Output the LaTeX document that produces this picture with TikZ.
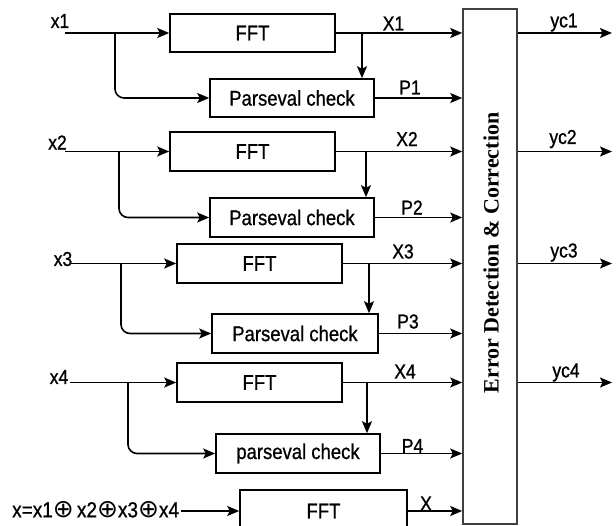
\documentclass[tikz,border=0pt]{standalone}
\usepackage{fontspec}
\setmainfont{Liberation Sans}[FakeBold=0.8]
\newfontfamily\labfont{Liberation Sans}[FakeBold=1.1]
\newfontfamily\errfont{Liberation Serif}
\newfontfamily\symfont{DejaVu Sans}
\usetikzlibrary{arrows.meta}
\newcommand{\tallt}[1]{\scalebox{1}[1.15]{#1}}
\newcommand{\opl}{{\symfont\fontsize{25}{25}\selectfont ⊕}}
\begin{document}
\begin{tikzpicture}[x=1pt,y=-1pt,
  box/.style={draw, line width=1.6pt, inner sep=0pt, font=\fontsize{18.5}{20}\selectfont},
  lab/.style={font=\labfont\fontsize{17.5}{20}\selectfont, inner sep=0pt},
  arr/.style={line width=1.6pt, -{Stealth[length=12pt,width=10pt,inset=2.5pt]}},
  br/.style={arr, rounded corners=9pt},
]
\useasboundingbox (0,0) rectangle (616,526);
% big box
\node[draw, line width=1.6pt, draw=black!75, minimum width=54pt, minimum height=515pt, inner sep=0pt] (E) at (490,266.5) {};
\node[rotate=90, inner sep=0pt, font=\errfont\bfseries\fontsize{22}{24}\selectfont] (EL) at (491,253) {Error Detection \& Correction};
% boxes
\node[box, minimum width=165pt, minimum height=38pt] (F1) at (252.5,33) {\tallt{FFT}};
\node[box, minimum width=164pt, minimum height=38pt] (P1) at (292,98) {\tallt{Parseval check}};
\node[box, minimum width=165pt, minimum height=39pt] (F2) at (252.5,151.5) {\tallt{FFT}};
\node[box, minimum width=164pt, minimum height=39pt] (P2) at (292,217.5) {\tallt{Parseval check}};
\node[box, minimum width=165pt, minimum height=39pt] (F3) at (259.5,263.5) {\tallt{FFT}};
\node[box, minimum width=166pt, minimum height=39pt] (P3) at (295,333.5) {\tallt{Parseval check}};
\node[box, minimum width=165pt, minimum height=39pt] (F4) at (259.5,382.5) {\tallt{FFT}};
\node[box, minimum width=164pt, minimum height=39pt] (P4) at (298,453.5) {\tallt{parseval check}};
\node[box, minimum width=167pt, minimum height=42pt] (F5) at (323.5,511) {\tallt{FFT}};
% input labels
\node[lab] (lx1) at (60,21) {\tallt{x1}};
\node[lab] (lx2) at (57.5,142.5) {\tallt{x2}};
\node[lab] (lx3) at (63,259) {\tallt{x3}};
\node[lab] (lx4) at (59,377) {\tallt{x4}};
\node[inner sep=0pt, font=\fontsize{19}{22}\selectfont, anchor=west] (lxs) at (12,509.5) {\tallt{x=x1}\opl\,\tallt{x2}\opl\tallt{x3}\opl\tallt{x4}};
% output labels
\node[lab] (lX1) at (393.5,23.5) {\tallt{X1}};
\node[lab] (lX2) at (407,139) {\tallt{X2}};
\node[lab] (lX3) at (403,251.5) {\tallt{X3}};
\node[lab] (lX4) at (405,371.5) {\tallt{X4}};
\node[lab] (lX) at (426,503.5) {\tallt{X}};
\node[lab] (lP1) at (410,87.5) {\tallt{P1}};
\node[lab] (lP2) at (412,207.5) {\tallt{P2}};
\node[lab] (lP3) at (408,321.5) {\tallt{P3}};
\node[lab] (lP4) at (412.5,446) {\tallt{P4}};
\node[lab] (ly1) at (564,22.5) {\tallt{yc1}};
\node[lab] (ly2) at (563,139) {\tallt{yc2}};
\node[lab] (ly3) at (564,252.5) {\tallt{yc3}};
\node[lab] (ly4) at (566,372.5) {\tallt{yc4}};
% coordinates
\coordinate (i1) at (65,33);
\coordinate (i2) at (65,151.5);
\coordinate (i3) at (70,263.5);
\coordinate (i4) at (70,382.5);
\coordinate (b1) at (115,33);
\coordinate (b2) at (119,151.5);
\coordinate (b3) at (121,263.5);
\coordinate (b4) at (128,382.5);
\coordinate (c1) at (362,33);
\coordinate (c2) at (366,151.5);
\coordinate (c3) at (369,263.5);
\coordinate (c4) at (367,382.5);
\coordinate (o1) at (612,33);
\coordinate (o2) at (612,151.5);
\coordinate (o3) at (612,263.5);
\coordinate (o4) at (612,382.5);
% rows
\foreach \k in {1,2,3,4}{
  \draw[arr] (i\k) -- (F\k.west);
  \draw[br] (b\k) |- (P\k.west);
  \draw[arr] (F\k.east) -- (F\k.east -| E.west);
  \draw[arr] (c\k) -- (c\k |- P\k.north);
  \draw[arr] (P\k.east) -- (P\k.east -| E.west);
  \draw[arr] (E.east |- o\k) -- (o\k);
}
\draw[arr] ([xshift=2pt]lxs.east |- F5.west) -- (F5.west);
\draw[arr] (F5.east) -- (F5.east -| E.west);
\end{tikzpicture}
\end{document}
